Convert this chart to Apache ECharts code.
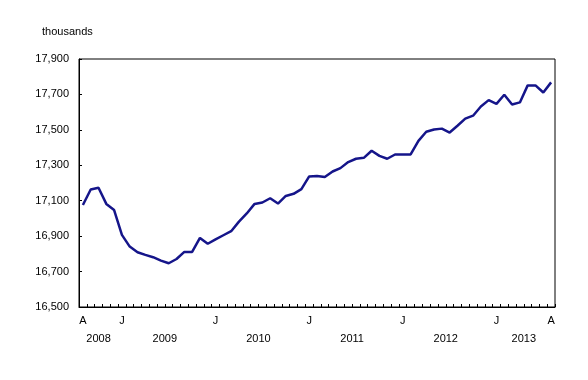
<!DOCTYPE html>
<html>
<head>
<meta charset="utf-8">
<script src="https://cdn.jsdelivr.net/npm/echarts@6/dist/echarts.min.js"></script>
<style>html,body{margin:0;padding:0;background:#fff;}#chart{width:588px;height:380px;}</style>
</head>
<body>
<div id="chart"></div>
<script>
// Monthly series, August 2008 to August 2013 (thousands)
var startYear = 2008, startMonth = 8, monthCount = 61;
var monthLetters = ['J','F','M','A','M','J','J','A','S','O','N','D'];
var categories = [];
for (var k = 0; k < monthCount; k++) {
  var m0 = startMonth - 1 + k;
  var yy = startYear + Math.floor(m0 / 12);
  var mm = (m0 % 12) + 1;
  categories.push(yy + '-' + (mm < 10 ? '0' + mm : mm));
}
var values = [
  17076, 17163, 17173, 17082, 17047,
  16907, 16841, 16809, 16794, 16781, 16762, 16747, 16771, 16811, 16811, 16890, 16857,
  16882, 16905, 16928, 16982, 17028, 17082, 17090, 17114, 17084, 17127, 17139, 17165,
  17237, 17240, 17234, 17265, 17284, 17318, 17337, 17342, 17382, 17353, 17337, 17361,
  17361, 17361, 17438, 17489, 17502, 17507, 17485, 17523, 17563, 17580, 17632, 17668,
  17647, 17698, 17643, 17655, 17751, 17751, 17711, 17768
];
var yTicks = { min: 16500, max: 17900, step: 200 };
var unitLabel = 'thousands';

// year label centres (category index units) from categories
var yearCenters = {};
(function () {
  var spans = {};
  categories.forEach(function (c, i) {
    var y = c.slice(0, 4);
    if (!spans[y]) spans[y] = [i, i]; else spans[y][1] = i;
  });
  Object.keys(spans).forEach(function (y) {
    var c = (spans[y][0] + spans[y][1]) / 2;
    yearCenters[c.toFixed(1)] = y;
  });
})();

var font = "'Liberation Sans', Arial, sans-serif";
var chart = echarts.init(document.getElementById('chart'), null, { renderer: 'canvas' });
chart.setOption({
  animation: false,
  backgroundColor: '#fff',
  title: {
    text: unitLabel, left: 37, top: 21,
    textStyle: { fontFamily: font, fontSize: 11, fontWeight: 'normal', color: '#000' }
  },
  grid: {
    left: 79, right: 33, top: 59, bottom: 73,
    show: true, borderColor: '#000', borderWidth: 1, backgroundColor: 'transparent'
  },
  xAxis: [{
    type: 'category',
    data: categories,
    boundaryGap: true,
    axisLine: { onZero: false, lineStyle: { color: '#000', width: 1 } },
    axisTick: { show: true, inside: true, length: 3, interval: 0, lineStyle: { color: '#000' } },
    axisLabel: {
      interval: function (i) {
        return i === 0 || i === categories.length - 1 || categories[i].slice(5) === '01';
      },
      formatter: function (v) { return monthLetters[parseInt(v.slice(5), 10) - 1]; },
      margin: 8, fontFamily: font, fontSize: 11, color: '#000'
    },
    splitLine: { show: false }
  }, {
    type: 'value',
    min: -0.5, max: categories.length - 0.5, interval: 0.5,
    position: 'bottom',
    axisLine: { show: false, onZero: false }, axisTick: { show: false }, splitLine: { show: false },
    axisLabel: {
      margin: 26, fontFamily: font, fontSize: 11, color: '#000',
      showMinLabel: true, showMaxLabel: true,
      formatter: function (v) { return yearCenters[(Math.round(v * 2) / 2).toFixed(1)] || ''; }
    }
  }],
  yAxis: {
    type: 'value',
    position: 'left',
    min: yTicks.min, max: yTicks.max, interval: yTicks.step,
    axisLine: { show: true, onZero: false, lineStyle: { color: '#000', width: 1 } },
    axisTick: { show: true, inside: true, length: 3, lineStyle: { color: '#000' } },
    axisLabel: { margin: 10, fontFamily: font, fontSize: 11, color: '#000' },
    splitLine: { show: false }
  },
  series: [{
    type: 'line',
    xAxisIndex: 0,
    data: values,
    showSymbol: false,
    symbol: 'none',
    lineStyle: { color: '#15158a', width: 2.5 },
    itemStyle: { color: '#15158a' }
  }]
});
</script>
</body>
</html>
